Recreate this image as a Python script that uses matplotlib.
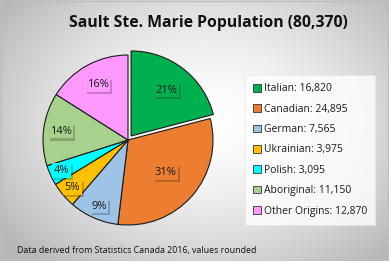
import numpy as np
import matplotlib
matplotlib.use("Agg")
import matplotlib.pyplot as plt
from matplotlib.patches import Patch
import matplotlib.patheffects as pe

categories = ["Italian", "Canadian", "German", "Ukrainian", "Polish", "Aboriginal", "Other Origins"]
values = [16820, 24895, 7565, 3975, 3095, 11150, 12870]
colors = ["#00B050", "#ED7D31", "#9DC3E6", "#FFC000", "#00FFFF", "#A9D18E", "#FF99FF"]
explode = [0.06, 0, 0, 0, 0, 0, 0]
label_dist = [0.68, 0.58, 0.85, 0.86, 0.86, 0.80, 0.74]
title = "Sault Ste. Marie Population (80,370)"
footer = "Data derived from Statistics Canada 2016, values rounded"

plt.rcParams['font.family'] = ['Open Sans', 'DejaVu Sans']

W, H = 389, 261
fig = plt.figure(figsize=(W/100, H/100), dpi=100)

# background radial gradient
bg = fig.add_axes([0, 0, 1, 1])
yy, xx = np.mgrid[0:H, 0:W]
d = np.sqrt(((xx - 205) / 230.0) ** 2 + ((yy - 120) / 170.0) ** 2)
g = np.clip(1.0 - 0.24 * d ** 1.6, 0.72, 1.0)
img = np.dstack([g, g, g])
bg.imshow(img, extent=[0, W, H, 0], aspect='auto')
bg.set_xlim(0, W); bg.set_ylim(H, 0)
bg.axis('off')
bg.add_patch(plt.Rectangle((0.5, 0.5), W - 1, H - 1, fill=False, ec="#bdbdbd", lw=1))

R = 85
cx, cy = 128, 140
ax = fig.add_axes([(cx - 1.2 * R) / W, (H - cy - 1.2 * R) / H, 2.4 * R / W, 2.4 * R / H])

wedges, texts, autotexts = ax.pie(values, colors=colors, explode=explode, startangle=90,
                                  counterclock=False, autopct=lambda p: f"{p:.0f}%",
                                  pctdistance=0.65,
                                  wedgeprops=dict(edgecolor="#1a1a1a", linewidth=0.8),
                                  textprops=dict(fontsize=8, color="#1a1a1a"))
ax.set_xlim(-1.2, 1.2); ax.set_ylim(-1.2, 1.2)
ax.set_aspect('auto')
ax.axis('off')

for w, t, ld, c in zip(wedges, autotexts, label_dist, colors):
    ang = np.deg2rad((w.theta1 + w.theta2) / 2)
    cxw, cyw = w.center
    t.set_position((cxw + ld * np.cos(ang), cyw + ld * np.sin(ang)))
    t.set_bbox(dict(boxstyle="square,pad=0.15", fc=c, ec="none"))
    t.get_bbox_patch().set_path_effects([pe.SimplePatchShadow(offset=(1.5, -1.5), alpha=0.3), pe.Normal()])

fig.text(208 / W, 1 - 23 / H, title, ha='center', va='center', fontsize=11.3, fontweight='bold', color='#111111')
fig.text(17 / W, 1 - 250 / H, footer, ha='left', va='center', fontsize=6.4, color='#111111')

handles = [Patch(facecolor=c, edgecolor="#333333", linewidth=0.6) for c in colors]
labels = [f"{n}: {v:,}" for n, v in zip(categories, values)]
leg = fig.legend(handles, labels, loc='upper left', bbox_to_anchor=(245 / W, 1 - 75 / H),
                 fontsize=7.5, frameon=True, fancybox=False, handlelength=0.75, handleheight=0.75,
                 handletextpad=0.25, labelspacing=0.9, borderpad=0.8, borderaxespad=0)
leg.get_frame().set_facecolor('white')
leg.get_frame().set_edgecolor('#e6e6e6')
leg.get_frame().set_linewidth(0.6)
for t in leg.get_texts():
    t.set_color('#1a1a1a')

fig.savefig("out.png", dpi=100)
